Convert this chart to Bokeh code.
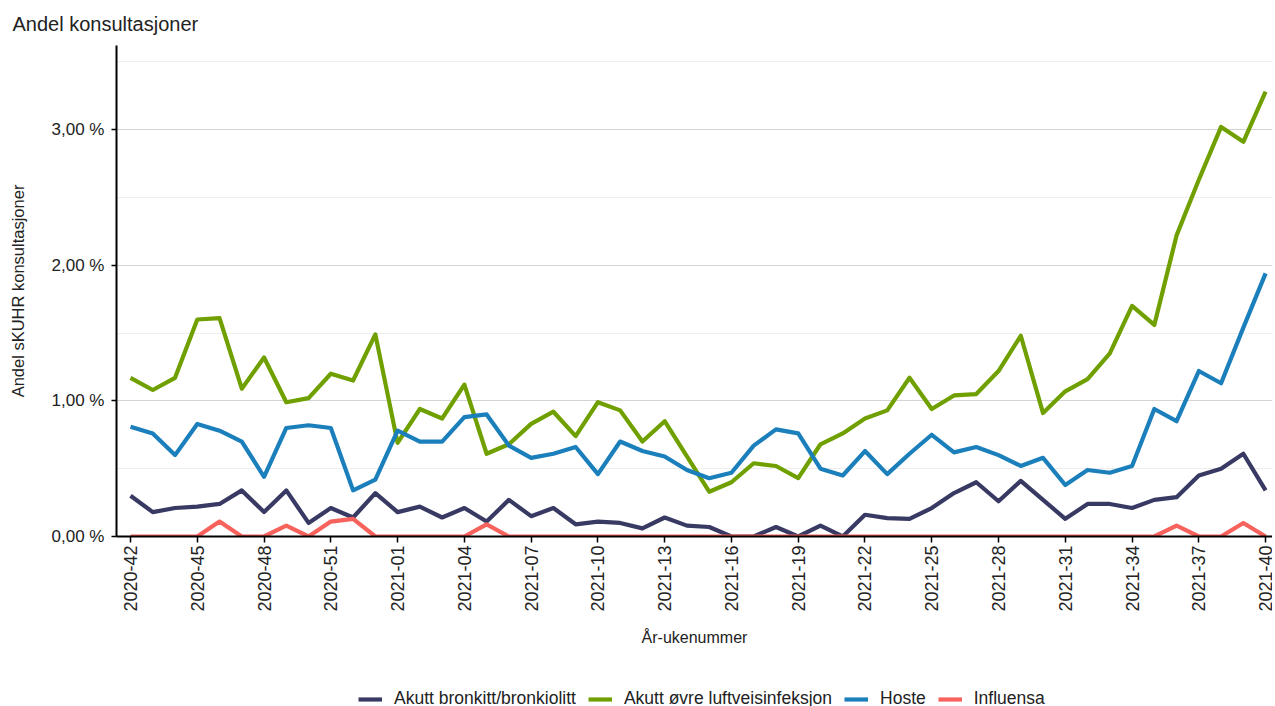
from bokeh.plotting import figure
from bokeh.models import FixedTicker, Range1d, Legend, LegendItem, Title, ColumnDataSource
from bokeh.layouts import column
from bokeh.embed import file_html
from bokeh.resources import INLINE
from math import pi

weeks = ["2020-42", "2020-43", "2020-44", "2020-45", "2020-46", "2020-47", "2020-48",
         "2020-49", "2020-50", "2020-51", "2020-52", "2020-53",
         "2021-01", "2021-02", "2021-03", "2021-04", "2021-05", "2021-06", "2021-07",
         "2021-08", "2021-09", "2021-10", "2021-11", "2021-12", "2021-13", "2021-14",
         "2021-15", "2021-16", "2021-17", "2021-18", "2021-19", "2021-20", "2021-21",
         "2021-22", "2021-23", "2021-24", "2021-25", "2021-26", "2021-27", "2021-28",
         "2021-29", "2021-30", "2021-31", "2021-32", "2021-33", "2021-34", "2021-35",
         "2021-36", "2021-37", "2021-38", "2021-39", "2021-40"]

bronkitt = [0.30, 0.18, 0.21, 0.22, 0.24, 0.34, 0.18, 0.34, 0.10, 0.21, 0.14, 0.32,
            0.18, 0.22, 0.14, 0.21, 0.11, 0.27, 0.15, 0.21, 0.09, 0.11, 0.10, 0.06,
            0.14, 0.08, 0.07, 0.00, 0.00, 0.07, 0.00, 0.08, 0.00, 0.16, 0.135, 0.13,
            0.21, 0.32, 0.40, 0.26, 0.41, 0.27, 0.13, 0.24, 0.24, 0.21, 0.27, 0.29,
            0.45, 0.50, 0.61, 0.34]

ovre = [1.17, 1.08, 1.17, 1.60, 1.61, 1.09, 1.32, 0.99, 1.02, 1.20, 1.15, 1.49,
        0.69, 0.94, 0.87, 1.12, 0.61, 0.68, 0.83, 0.92, 0.74, 0.99, 0.93, 0.70,
        0.85, 0.59, 0.33, 0.40, 0.54, 0.52, 0.43, 0.68, 0.76, 0.87, 0.93, 1.17,
        0.94, 1.04, 1.05, 1.22, 1.48, 0.91, 1.07, 1.16, 1.35, 1.70, 1.56, 2.22,
        2.63, 3.02, 2.91, 3.28]

hoste = [0.81, 0.76, 0.60, 0.83, 0.78, 0.70, 0.44, 0.80, 0.82, 0.80, 0.34, 0.42,
         0.78, 0.70, 0.70, 0.88, 0.90, 0.67, 0.58, 0.61, 0.66, 0.46, 0.70, 0.63,
         0.59, 0.49, 0.43, 0.47, 0.67, 0.79, 0.76, 0.50, 0.45, 0.63, 0.46, 0.61,
         0.75, 0.62, 0.66, 0.60, 0.52, 0.58, 0.38, 0.49, 0.47, 0.52, 0.94, 0.85,
         1.22, 1.13, 1.54, 1.94]

influensa = [0, 0, 0, 0, 0.11, 0, 0, 0.08, 0, 0.11, 0.13, 0,
             0, 0, 0, 0, 0.09, 0, 0, 0, 0, 0, 0, 0,
             0, 0, 0, 0, 0, 0, 0, 0, 0, 0, 0, 0,
             0, 0, 0, 0, 0, 0, 0, 0, 0, 0, 0, 0.08,
             0, 0, 0.10, 0]

series_names = ["Akutt bronkitt/bronkiolitt", "Akutt øvre luftveisinfeksjon", "Hoste", "Influensa"]
series_values = [bronkitt, ovre, hoste, influensa]
colors = ["#383a63", "#70a000", "#1b7fbb", "#f8625c"]

y_ticks = [0, 1, 2, 3]
y_tick_labels = ["0,00 %", "1,00 %", "2,00 %", "3,00 %"]
y_minor = [0.5, 1.5, 2.5, 3.5]

FONT = "Liberation Sans"
TXT = "#222222"
x = list(range(len(weeks)))

W = 1272
p = figure(width=W, height=660, output_backend="svg", toolbar_location=None,
           x_range=Range1d(-0.63, 51.31), y_range=Range1d(0, 3.62),
           min_border_left=116, min_border_right=0, min_border_top=45, min_border_bottom=124)
p.outline_line_color = None
p.background_fill_color = "white"

title = Title(text="Andel konsultasjoner", text_font=FONT, text_font_size="20px",
              text_font_style="normal", text_color=TXT, align="left", offset=-104,
              standoff=21, vertical_align="bottom")
p.add_layout(title, "above")

for name, vals, col in zip(series_names, series_values, colors):
    src = ColumnDataSource(dict(x=x, y=vals))
    p.line("x", "y", source=src, line_color=col, line_width=4.2, line_join="round")

# axes
xa = p.xaxis[0]
xa.ticker = FixedTicker(ticks=list(range(0, len(weeks), 3)))
xa.major_label_overrides = {i: weeks[i] for i in range(0, len(weeks), 3)}
xa.major_label_orientation = pi / 2
xa.major_label_text_font = FONT
xa.major_label_text_font_size = "18px"
xa.major_label_text_color = TXT
xa.axis_line_color = "black"
xa.axis_line_width = 2
xa.major_tick_line_color = "black"
xa.major_tick_line_width = 1.5
xa.major_tick_out = 6
xa.major_tick_in = 0
xa.minor_tick_line_color = None
xa.major_label_standoff = 3
xa.axis_label = "År-ukenummer"
xa.axis_label_text_font = FONT
xa.axis_label_text_font_size = "16px"
xa.axis_label_text_font_style = "normal"
xa.axis_label_text_color = TXT
xa.axis_label_standoff = 14

ya = p.yaxis[0]
ya.ticker = FixedTicker(ticks=y_ticks, minor_ticks=y_minor)
ya.major_label_overrides = {t: l for t, l in zip(y_ticks, y_tick_labels)}
ya.major_label_text_font = FONT
ya.major_label_text_font_size = "17px"
ya.major_label_text_color = TXT
ya.axis_line_color = "black"
ya.axis_line_width = 2
ya.major_tick_line_color = "black"
ya.major_tick_line_width = 1.5
ya.major_tick_out = 5
ya.major_tick_in = 0
ya.minor_tick_line_color = None
ya.major_label_standoff = 7
ya.axis_label = "Andel sKUHR konsultasjoner"
ya.axis_label_text_font = FONT
ya.axis_label_text_font_size = "16.5px"
ya.axis_label_text_font_style = "normal"
ya.axis_label_text_color = TXT
ya.axis_label_standoff = 22

p.xgrid.grid_line_color = None
p.ygrid.grid_line_color = "#d4d4d4"
p.ygrid.grid_line_width = 1
p.ygrid.minor_grid_line_color = "#eeeeee"
p.ygrid.minor_grid_line_width = 1

# legend strip: same series, drawn outside its visible range so only the legend shows
lg = figure(width=W, height=52, output_backend="svg", toolbar_location=None,
            x_range=Range1d(0, 1), y_range=Range1d(100, 101),
            min_border_left=0, min_border_right=0, min_border_top=0, min_border_bottom=0)
lg.axis.visible = False
lg.grid.visible = False
lg.outline_line_color = None
items = []
for name, vals, col in zip(series_names, series_values, colors):
    src = ColumnDataSource(dict(x=x, y=vals))
    r = lg.line("x", "y", source=src, line_color=col, line_width=4.2)
    items.append(LegendItem(label=name, renderers=[r]))

legend = Legend(items=items, orientation="horizontal", location=(242, 3),
                label_text_font=FONT, label_text_font_size="17.5px", label_text_color=TXT,
                glyph_width=24, glyph_height=14, label_standoff=12, spacing=12,
                label_height=20, padding=0, margin=0, border_line_color=None,
                background_fill_alpha=0)
lg.add_layout(legend)

layout = column(p, lg, spacing=0)
open("out.html", "w").write(file_html(layout, INLINE))
